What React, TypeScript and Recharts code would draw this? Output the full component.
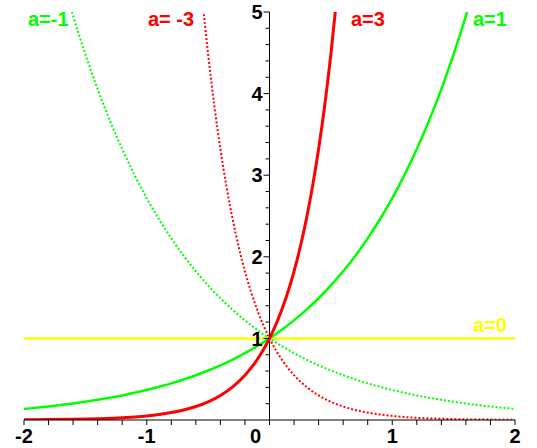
import React from "react"
import { ComposedChart, Line, XAxis, YAxis, ReferenceLine, Scatter } from "recharts"

// y = e^(a x), one pair of arrays per curve
const xA1 = [-2, -1.9, -1.8, -1.7, -1.6, -1.5, -1.4, -1.3, -1.2, -1.1, -1, -0.9, -0.8, -0.7, -0.6, -0.5, -0.4, -0.3, -0.2, -0.1, 0, 0.1, 0.2, 0.3, 0.4, 0.5, 0.6, 0.7, 0.8, 0.9, 1, 1.1, 1.2, 1.3, 1.4, 1.5, 1.6, 1.7]
const yA1 = [0.135, 0.15, 0.165, 0.183, 0.202, 0.223, 0.247, 0.273, 0.301, 0.333, 0.368, 0.407, 0.449, 0.497, 0.549, 0.607, 0.67, 0.741, 0.819, 0.905, 1, 1.105, 1.221, 1.35, 1.492, 1.649, 1.822, 2.014, 2.226, 2.46, 2.718, 3.004, 3.32, 3.669, 4.055, 4.482, 4.953, 5.474]

const xAm1 = [-1.7, -1.6, -1.5, -1.4, -1.3, -1.2, -1.1, -1, -0.9, -0.8, -0.7, -0.6, -0.5, -0.4, -0.3, -0.2, -0.1, 0, 0.1, 0.2, 0.3, 0.4, 0.5, 0.6, 0.7, 0.8, 0.9, 1, 1.1, 1.2, 1.3, 1.4, 1.5, 1.6, 1.7, 1.8, 1.9, 2]
const yAm1 = [5.474, 4.953, 4.482, 4.055, 3.669, 3.32, 3.004, 2.718, 2.46, 2.226, 2.014, 1.822, 1.649, 1.492, 1.35, 1.221, 1.105, 1, 0.905, 0.819, 0.741, 0.67, 0.607, 0.549, 0.497, 0.449, 0.407, 0.368, 0.333, 0.301, 0.273, 0.247, 0.223, 0.202, 0.183, 0.165, 0.15, 0.135]

const xA3 = [-2, -1.8, -1.6, -1.4, -1.2, -1, -0.9, -0.8, -0.7, -0.6, -0.5, -0.4, -0.3, -0.2, -0.15, -0.1, -0.05, 0, 0.05, 0.1, 0.15, 0.2, 0.25, 0.3, 0.35, 0.4, 0.45, 0.5, 0.55, 0.6]
const yA3 = [0.002, 0.005, 0.008, 0.015, 0.027, 0.05, 0.067, 0.091, 0.122, 0.165, 0.223, 0.301, 0.407, 0.549, 0.638, 0.741, 0.861, 1, 1.162, 1.35, 1.568, 1.822, 2.117, 2.46, 2.858, 3.32, 3.857, 4.482, 5.207, 6.05]

const xAm3 = [-0.6, -0.55, -0.5, -0.45, -0.4, -0.35, -0.3, -0.25, -0.2, -0.15, -0.1, -0.05, 0, 0.05, 0.1, 0.15, 0.2, 0.3, 0.4, 0.5, 0.6, 0.7, 0.8, 0.9, 1, 1.2, 1.4, 1.6, 1.8, 2]
const yAm3 = [6.05, 5.207, 4.482, 3.857, 3.32, 2.858, 2.46, 2.117, 1.822, 1.568, 1.35, 1.162, 1, 0.861, 0.741, 0.638, 0.549, 0.407, 0.301, 0.223, 0.165, 0.122, 0.091, 0.067, 0.05, 0.027, 0.015, 0.008, 0.005, 0.002]

const xA0 = [-2, 2]
const yA0 = [1, 1]

const xTicks = [-2, -1.8, -1.6, -1.4, -1.2, -1, -0.8, -0.6, -0.4, -0.2, 0, 0.2, 0.4, 0.6, 0.8, 1, 1.2, 1.4, 1.6, 1.8, 2]
const yTicks = [0.2, 0.4, 0.6, 0.8, 1, 1.2, 1.4, 1.6, 1.8, 2, 2.2, 2.4, 2.6, 2.8, 3, 3.2, 3.4, 3.6, 3.8, 4, 4.2, 4.4, 4.6, 4.8, 5]

const zip = (xs: number[], ys: number[]) => xs.map((x, i) => ({ x, y: ys[i] }))

const FONT = "'Liberation Sans', Arial, sans-serif"

function XTick(props: any) {
  const { x, y, payload } = props
  const v = payload.value
  if (!Number.isInteger(v)) return null
  return (
    <text x={v === 0 ? x - 14 : x} y={y + 16} textAnchor="middle" fontFamily={FONT} fontWeight="bold" fontSize={20} fill="#000">
      {v}
    </text>
  )
}

// tick marks and numbers on the y axis, which sits at x = 0
function YTick(props: any) {
  const { cx, cy, payload } = props
  const major = Number.isInteger(payload.y)
  return (
    <g>
      <line x1={cx - (major ? 6 : 4)} x2={cx} y1={cy} y2={cy} stroke="#000" strokeWidth={1} />
      {major && (
        <text x={cx - 7} y={cy} dy="0.36em" textAnchor="end" fontFamily={FONT} fontWeight="bold" fontSize={20} fill="#000">
          {payload.y}
        </text>
      )}
    </g>
  )
}

const labels = [
  { text: "a=-1", x: 28, y: 26, color: "#00ff00" },
  { text: "a= -3", x: 148, y: 26, color: "#ff0000" },
  { text: "a=3", x: 351, y: 26, color: "#ff0000" },
  { text: "a=1", x: 473, y: 26, color: "#00ff00" },
  { text: "a=0", x: 473, y: 332, color: "#ffff00" },
]

export default function App() {
  return (
    <div style={{ position: "absolute", left: 0, top: 0, width: 537, height: 448, background: "#fff" }}>
      <ComposedChart width={537} height={448} margin={{ top: 12, right: 22, left: 24, bottom: 0 }}>
        <XAxis
          type="number"
          dataKey="x"
          domain={[-2, 2]}
          ticks={xTicks}
          interval={0}
          height={28}
          tickSize={5}
          axisLine={{ stroke: "#000" }}
          tickLine={{ stroke: "#000" }}
          tick={<XTick />}
        />
        <YAxis type="number" dataKey="y" domain={[0, 5]} allowDataOverflow hide />
        <YAxis yAxisId="t" type="number" dataKey="y" domain={[0, 5]} hide />
        <ReferenceLine x={0} stroke="#000" strokeWidth={1} />
        <Line data={zip(xA0, yA0)} dataKey="y" stroke="#ffff00" strokeWidth={2.5} dot={false} isAnimationActive={false} />
        <Line data={zip(xAm1, yAm1)} dataKey="y" type="monotone" stroke="#00ff00" strokeWidth={2} strokeDasharray="2 2" dot={false} isAnimationActive={false} />
        <Line data={zip(xAm3, yAm3)} dataKey="y" type="monotone" stroke="#ff0000" strokeWidth={2} strokeDasharray="2 2" dot={false} isAnimationActive={false} />
        <Line data={zip(xA1, yA1)} dataKey="y" type="monotone" stroke="#00ff00" strokeWidth={2.5} dot={false} isAnimationActive={false} />
        <Line data={zip(xA3, yA3)} dataKey="y" type="monotone" stroke="#ff0000" strokeWidth={3} dot={false} isAnimationActive={false} />
        <Scatter yAxisId="t" data={yTicks.map((y) => ({ x: 0, y }))} shape={<YTick />} isAnimationActive={false} />
      </ComposedChart>
      <svg width={537} height={448} style={{ position: "absolute", left: 0, top: 0, pointerEvents: "none" }}>
        {labels.map((l) => (
          <text key={l.text} x={l.x} y={l.y} fontFamily={FONT} fontWeight="bold" fontSize={20} fill={l.color}>
            {l.text}
          </text>
        ))}
      </svg>
    </div>
  )
}
